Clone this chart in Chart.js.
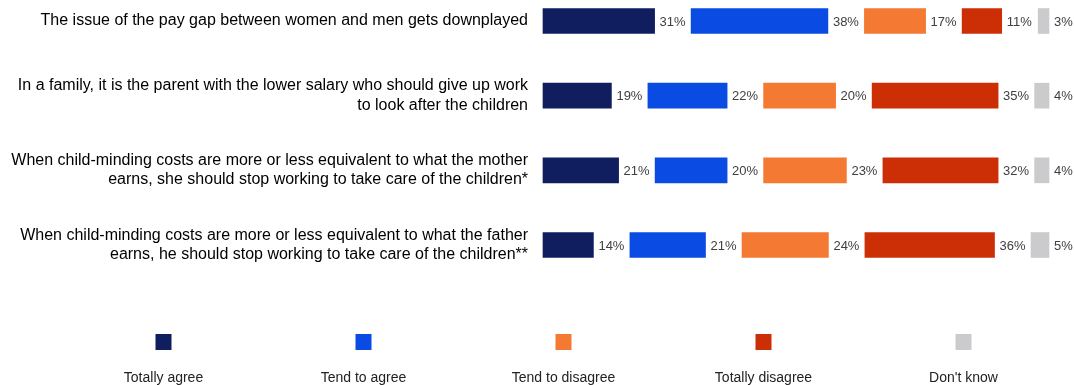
<!DOCTYPE html>
<html>
<head>
<meta charset="utf-8">
<script src="https://cdn.jsdelivr.net/npm/chart.js@4"></script>
<style>
  html, body { margin: 0; padding: 0; background: #fff; }
  #wrap { width: 1074px; height: 385px; position: relative; }
</style>
</head>
<body>
<div id="wrap"><canvas id="chart"></canvas></div>
<script>
// categories (y axis)
const statements = [
  'The issue of the pay gap between women and men gets downplayed',
  ['In a family, it is the parent with the lower salary who should give up work', 'to look after the children'],
  ['When child-minding costs are more or less equivalent to what the mother', 'earns, she should stop working to take care of the children*'],
  ['When child-minding costs are more or less equivalent to what the father', 'earns, he should stop working to take care of the children**']
];

// series
const seriesNames = ['Totally agree', 'Tend to agree', 'Tend to disagree', 'Totally disagree', "Don't know"];
const totallyAgree    = [31, 19, 21, 14];
const tendToAgree     = [38, 22, 20, 21];
const tendToDisagree  = [17, 20, 23, 24];
const totallyDisagree = [11, 35, 32, 36];
const dontKnow        = [3, 4, 4, 5];
const colors = ['#101d5f', '#0a4be4', '#f47932', '#cc2f06', '#cbcbcd'];

const FONT = '"Liberation Sans", Arial, sans-serif';
const GAP = 10.14; // empty room after each bar for its % label

const values = [totallyAgree, tendToAgree, tendToDisagree, totallyDisagree, dontKnow];
const datasets = [];
values.forEach((v, i) => {
  datasets.push({ label: seriesNames[i], data: v, backgroundColor: colors[i], isValue: true });
  if (i < values.length - 1) {
    datasets.push({ label: 'gap' + i, data: v.map(() => GAP), backgroundColor: 'rgba(0,0,0,0)', isValue: false });
  }
});

// % labels after each bar
const valueLabels = {
  id: 'valueLabels',
  afterDatasetsDraw(chart) {
    const ctx = chart.ctx;
    ctx.save();
    ctx.font = '13px ' + FONT;
    ctx.fillStyle = '#404040';
    ctx.textAlign = 'left';
    ctx.textBaseline = 'middle';
    chart.data.datasets.forEach((ds, di) => {
      if (!ds.isValue) return;
      chart.getDatasetMeta(di).data.forEach((bar, j) => {
        ctx.fillText(ds.data[j] + '%', bar.x + 5, bar.y + 1);
      });
    });
    ctx.restore();
  }
};

// legend: square above the name
const boxLegend = {
  id: 'boxLegend',
  afterDraw(chart) {
    const ctx = chart.ctx;
    ctx.save();
    ctx.font = '14px ' + FONT;
    ctx.textAlign = 'center';
    ctx.textBaseline = 'middle';
    seriesNames.forEach((name, i) => {
      const cx = 163.5 + i * 200;
      ctx.fillStyle = colors[i];
      ctx.fillRect(cx - 8, 334, 16, 16);
      ctx.fillStyle = '#222';
      ctx.fillText(name, cx, 378);
    });
    ctx.restore();
  }
};

new Chart(document.getElementById('chart'), {
  type: 'bar',
  data: { labels: statements, datasets: datasets },
  options: {
    indexAxis: 'y',
    responsive: true,
    maintainAspectRatio: false,
    animation: false,
    datasets: { bar: { barThickness: 25, clip: false } },
    layout: { padding: { top: 21, bottom: 140, left: 0, right: 0 } },
    scales: {
      x: { stacked: true, min: 0, max: 147.5, display: false },
      y: {
        stacked: true,
        offset: false,
        grid: { display: false, drawTicks: false },
        border: { display: false },
        ticks: {
          color: '#000',
          padding: 15,
          font: { family: FONT, size: 16, lineHeight: 1.2 }
        },
        afterFit(scale) {
          scale.width = 543;
          scale.paddingTop = 0;
          scale.paddingBottom = 0;
        }
      }
    },
    plugins: {
      legend: { display: false },
      tooltip: { enabled: false }
    }
  },
  plugins: [valueLabels, boxLegend]
});
</script>
</body>
</html>
